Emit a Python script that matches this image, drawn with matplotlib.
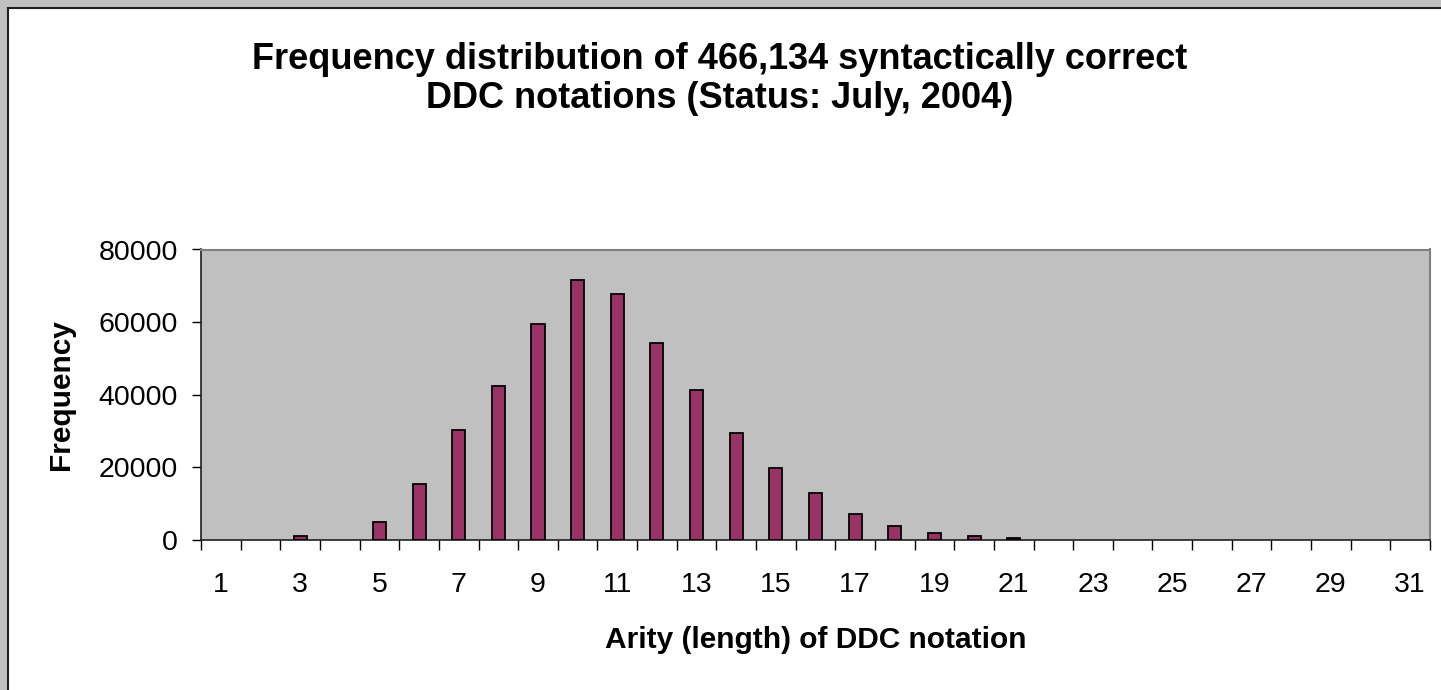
import numpy
from matplotlib import pyplot
from matplotlib.patches import Rectangle
from matplotlib.lines import Line2D

pyplot.rcParams['font.family'] = ['Liberation Sans', 'DejaVu Sans']

# arity (length) of notation and number of notations
arity = list(range(1, 32))
freq = [0, 0, 1200, 0, 5000, 15300, 30300, 42500, 59400, 71600, 67700,
        54200, 41300, 29500, 19900, 12900, 7100, 3850, 1850, 1200, 600,
        0, 0, 0, 0, 0, 0, 0, 0, 0, 0]
yticks = [0, 20000, 40000, 60000, 80000]
xlabels = [str(a) for a in arity if a % 2 == 1]

title = ("Frequency distribution of 466,134 syntactically correct\n"
         "DDC notations (Status: July, 2004)")

W, H = 1441, 690
fig = pyplot.figure(figsize=(W / 100, H / 100), dpi=100, facecolor='#c0c0c0')

# white chart area with dark border (left and top visible)
x0 = 7.5 / W
y1 = 1 - 7.5 / H
fig.patches.append(Rectangle((x0, 0), 1 - x0, y1, transform=fig.transFigure,
                             facecolor='white', edgecolor='none', zorder=-5))
fig.lines.append(Line2D([x0, x0], [0, y1], transform=fig.transFigure,
                        color='#202020', lw=1.5, zorder=-4))
fig.lines.append(Line2D([x0, 1], [y1, y1], transform=fig.transFigure,
                        color='#202020', lw=1.5, zorder=-4))

ax = fig.add_axes([201 / W, 1 - 540 / H, (1430 - 201) / W, (540 - 249.5) / H])
ax.set_facecolor('#c0c0c0')

# empty categories get no outline
edges = ['black' if f > 0 else 'none' for f in freq]
ax.bar(arity, freq, width=0.33, color='#993366', edgecolor=edges,
       linewidth=1.3, zorder=3)

ax.set_xlim(0.5, 31.5)
ax.set_ylim(0, 80000)
ax.set_yticks(yticks)
ax.set_yticklabels([str(v) for v in yticks])

ax.set_xticks(numpy.arange(0.5, 32, 1.0))
ax.set_xticklabels([])
ax.set_xticks([a for a in arity if a % 2 == 1], minor=True)
ax.set_xticklabels(xlabels, minor=True)

ax.tick_params(axis='x', which='major', direction='out', length=7, width=1, color='black')
ax.tick_params(axis='x', which='minor', length=0, pad=23, labelsize=20.5)
ax.tick_params(axis='y', direction='out', length=6.5, width=1, labelsize=20.5, pad=10)

ax.spines['top'].set_color('#808080')
ax.spines['right'].set_color('#808080')
ax.spines['top'].set_linewidth(1.5)
ax.spines['right'].set_linewidth(1.5)
ax.spines['left'].set_color('#202020')
ax.spines['bottom'].set_color('#202020')
ax.spines['left'].set_linewidth(1.2)
ax.spines['bottom'].set_linewidth(1.2)

ax.set_xlabel('Arity (length) of DDC notation', fontsize=21.5, fontweight='bold',
              labelpad=20)
ax.set_ylabel('Frequency', fontsize=21.5, fontweight='bold', labelpad=17)

fig.text(720 / W, 1 - 79 / H, title, ha='center', va='center',
         multialignment='center', fontsize=26, fontweight='bold', linespacing=1.13)

fig.savefig('out.png', dpi=100, facecolor=fig.get_facecolor())
